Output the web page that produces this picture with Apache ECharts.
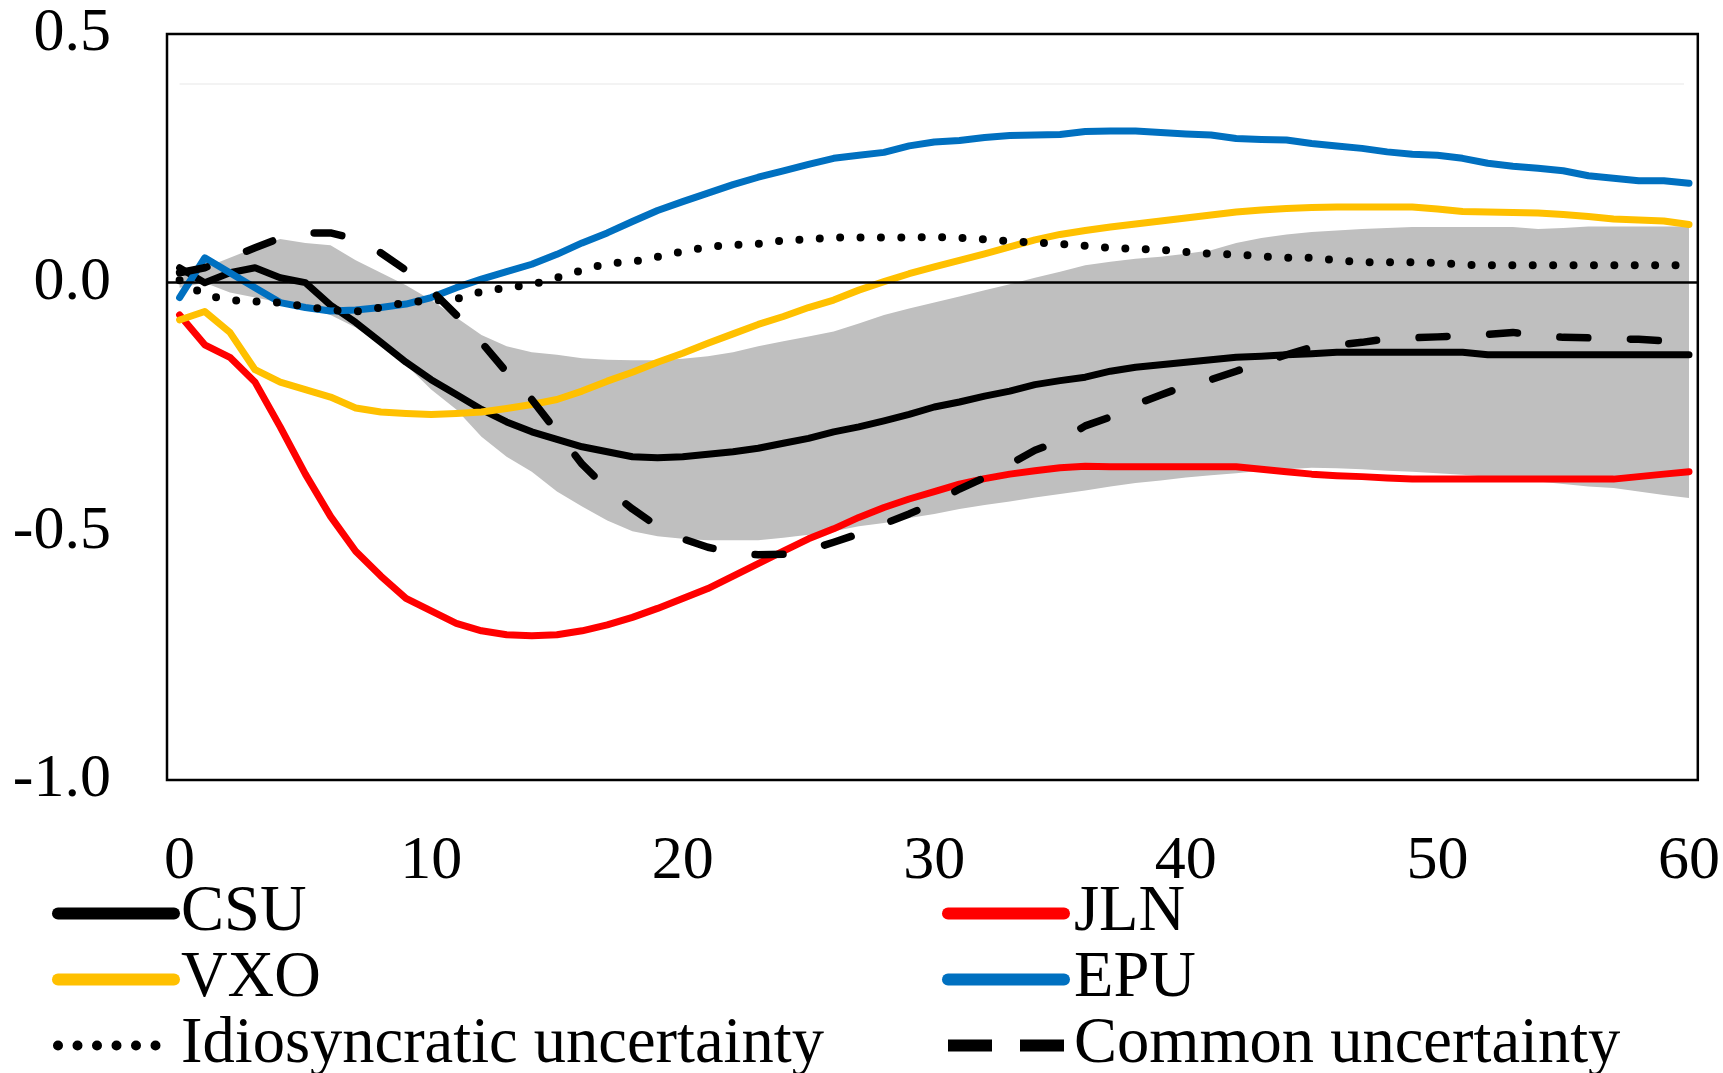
<!DOCTYPE html>
<html>
<head>
<meta charset="utf-8">
<title>Impulse responses to uncertainty shocks</title>
<script src="https://cdn.jsdelivr.net/npm/echarts@6/dist/echarts.min.js"></script>
<style>
  html, body { margin: 0; padding: 0; background: #ffffff; }
  #chart { width: 1723px; height: 1073px; }
</style>
</head>
<body>
<div id="chart"></div>
<script>
// Horizon (months after the shock)
const horizon = [0,1,2,3,4,5,6,7,8,9,10,11,12,13,14,15,16,17,18,19,20,
  21,22,23,24,25,26,27,28,29,30,31,32,33,34,35,36,37,38,39,40,
  41,42,43,44,45,46,47,48,49,50,51,52,53,54,55,56,57,58,59,60];

const xTickLabels = [0, 10, 20, 30, 40, 50, 60];

// Responses by uncertainty measure
const csu = [0.03,0.00,0.02,0.03,0.01,0.00,-0.045,-0.08,-0.12,-0.16,-0.195,
  -0.225,-0.255,-0.28,-0.30,-0.315,-0.33,-0.34,-0.35,-0.352,-0.35,
  -0.345,-0.34,-0.333,-0.323,-0.313,-0.30,-0.29,-0.278,-0.265,-0.25,
  -0.24,-0.228,-0.218,-0.205,-0.197,-0.19,-0.178,-0.17,-0.165,-0.16,
  -0.155,-0.15,-0.148,-0.145,-0.143,-0.14,-0.14,-0.14,-0.14,-0.14,
  -0.14,-0.145,-0.145,-0.145,-0.145,-0.145,-0.145,-0.145,-0.145,-0.145];

const jln = [-0.065,-0.125,-0.15,-0.20,-0.29,-0.385,-0.47,-0.54,-0.59,-0.635,-0.66,
  -0.685,-0.70,-0.708,-0.71,-0.708,-0.70,-0.688,-0.673,-0.655,-0.635,
  -0.615,-0.59,-0.565,-0.54,-0.515,-0.495,-0.472,-0.452,-0.435,-0.42,
  -0.405,-0.394,-0.385,-0.378,-0.372,-0.369,-0.37,-0.37,-0.37,-0.37,
  -0.37,-0.37,-0.375,-0.38,-0.385,-0.388,-0.39,-0.393,-0.395,-0.395,
  -0.395,-0.395,-0.395,-0.395,-0.395,-0.395,-0.395,-0.39,-0.385,-0.38];

const vxo = [-0.075,-0.058,-0.10,-0.175,-0.20,-0.215,-0.23,-0.252,-0.26,-0.263,-0.265,
  -0.263,-0.26,-0.253,-0.245,-0.235,-0.218,-0.198,-0.18,-0.16,-0.142,
  -0.122,-0.103,-0.084,-0.068,-0.05,-0.035,-0.015,0.002,0.018,0.032,
  0.045,0.058,0.072,0.086,0.097,0.105,0.112,0.118,0.124,0.13,
  0.136,0.142,0.146,0.149,0.151,0.152,0.152,0.152,0.152,0.148,
  0.143,0.142,0.141,0.14,0.137,0.133,0.128,0.126,0.124,0.117];

const epu = [-0.03,0.05,0.02,-0.01,-0.04,-0.05,-0.057,-0.055,-0.05,-0.043,-0.03,
  -0.01,0.007,0.022,0.037,0.057,0.08,0.10,0.123,0.145,0.163,
  0.18,0.197,0.212,0.225,0.238,0.25,0.256,0.262,0.275,0.283,
  0.286,0.292,0.296,0.297,0.298,0.304,0.305,0.305,0.302,0.299,
  0.297,0.29,0.288,0.287,0.28,0.275,0.27,0.263,0.258,0.256,
  0.25,0.24,0.234,0.23,0.225,0.215,0.21,0.205,0.205,0.20];

const idiosyncratic = [0.005,-0.025,-0.035,-0.038,-0.04,-0.048,-0.055,-0.058,-0.05,-0.04,-0.036,
  -0.033,-0.018,-0.01,-0.004,0.01,0.025,0.039,0.042,0.052,0.063,
  0.072,0.076,0.078,0.085,0.087,0.091,0.091,0.091,0.091,0.092,
  0.09,0.087,0.083,0.081,0.078,0.074,0.07,0.068,0.066,0.062,
  0.058,0.057,0.053,0.05,0.05,0.045,0.041,0.041,0.041,0.04,
  0.036,0.035,0.035,0.035,0.035,0.035,0.035,0.035,0.035,0.035];

const common = [0.02,0.03,0.05,0.07,0.09,0.10,0.10,0.088,0.06,0.025,-0.015,
  -0.065,-0.12,-0.18,-0.235,-0.30,-0.365,-0.415,-0.455,-0.49,-0.515,
  -0.532,-0.543,-0.547,-0.546,-0.538,-0.522,-0.505,-0.485,-0.465,-0.443,
  -0.415,-0.392,-0.365,-0.337,-0.318,-0.288,-0.27,-0.245,-0.226,-0.207,
  -0.195,-0.178,-0.161,-0.145,-0.13,-0.125,-0.12,-0.113,-0.111,-0.109,
  -0.107,-0.104,-0.10,-0.106,-0.11,-0.111,-0.113,-0.114,-0.117,-0.124];

// Confidence band around the CSU response
const bandUpper = [0.01,0.03,0.05,0.07,0.088,0.08,0.075,0.045,0.02,-0.005,-0.035,
  -0.07,-0.105,-0.128,-0.14,-0.145,-0.152,-0.155,-0.156,-0.156,-0.153,
  -0.148,-0.14,-0.128,-0.118,-0.108,-0.098,-0.082,-0.065,-0.052,-0.04,
  -0.028,-0.015,-0.003,0.01,0.022,0.035,0.042,0.048,0.052,0.058,
  0.065,0.08,0.09,0.097,0.102,0.105,0.108,0.11,0.112,0.112,
  0.112,0.112,0.112,0.108,0.11,0.113,0.113,0.113,0.113,0.113];

const bandLower = [-0.01,0.00,-0.02,-0.03,-0.04,-0.05,-0.065,-0.09,-0.125,-0.165,-0.215,
  -0.255,-0.31,-0.35,-0.38,-0.42,-0.45,-0.478,-0.50,-0.51,-0.515,
  -0.518,-0.518,-0.518,-0.513,-0.507,-0.50,-0.49,-0.483,-0.473,-0.465,
  -0.455,-0.447,-0.44,-0.432,-0.425,-0.418,-0.41,-0.403,-0.398,-0.392,
  -0.387,-0.383,-0.378,-0.375,-0.372,-0.373,-0.375,-0.378,-0.38,-0.383,
  -0.386,-0.39,-0.395,-0.40,-0.405,-0.41,-0.413,-0.42,-0.427,-0.433];

const FONT = "'Liberation Serif', 'Times New Roman', serif";
const pairs = (ys) => horizon.map((x, i) => [x, ys[i]]);

const solid = (name, ys, color) => ({
  name, type: 'line', data: pairs(ys), symbol: 'none', z: 3,
  lineStyle: { color, width: 7, cap: 'round', join: 'round' },
  itemStyle: { color }
});

// Shaded band: one polygon through the upper bound and back along the lower bound
const bandSeries = {
  name: 'band', type: 'custom', silent: true, z: 1,
  data: horizon.map((x, i) => [x, bandLower[i], bandUpper[i]]),
  encode: { x: 0, y: [1, 2] },
  renderItem: (params, api) => {
    if (params.dataIndex !== 0) return null;
    const top = horizon.map((x, i) => api.coord([x, bandUpper[i]]));
    const bottom = horizon.map((x, i) => api.coord([x, bandLower[i]])).reverse();
    return {
      type: 'polygon',
      shape: { points: top.concat(bottom) },
      style: { fill: '#bfbfbf', stroke: null }
    };
  },
  markLine: {
    silent: true, symbol: 'none', label: { show: false },
    lineStyle: { color: '#f3f3f3', width: 2, type: 'solid' },
    data: [[{ coord: [0, 0.4] }, { coord: [59.8, 0.4] }]]
  }
};

const legendBase = (left, padLeft) => ({
  left, top: 881, width: 760, height: 400,
  orient: 'vertical', padding: 0, itemGap: 1,
  itemWidth: 116, itemHeight: 14, selectedMode: false,
  itemStyle: { opacity: 0 },
  textStyle: {
    fontFamily: FONT, fontSize: 64.5, lineHeight: 54, color: '#000000',
    padding: [0, 0, 0, padLeft]
  }
});

const chart = echarts.init(document.getElementById('chart'), null, { renderer: 'canvas' });

chart.setOption({
  animation: false,
  backgroundColor: '#ffffff',
  textStyle: { fontFamily: FONT },
  grid: {
    left: 167, right: 25, top: 34, bottom: 293,
    show: true, borderColor: '#000000', borderWidth: 2.5, backgroundColor: 'transparent'
  },
  xAxis: {
    type: 'value', min: -0.5, max: 60.35,
    axisLine: { show: false }, axisTick: { show: false }, splitLine: { show: false },
    axisLabel: {
      customValues: xTickLabels, margin: 51,
      fontFamily: FONT, fontSize: 62, color: '#000000'
    }
  },
  yAxis: {
    type: 'value', min: -1.0, max: 0.5, interval: 0.5,
    axisLine: { show: false }, axisTick: { show: false }, splitLine: { show: false },
    axisLabel: {
      margin: 56, fontFamily: FONT, fontSize: 62, color: '#000000',
      formatter: (v) => v.toFixed(1)
    }
  },
  legend: [
    Object.assign(legendBase(52, 2), {
      data: [
        { name: 'CSU', lineStyle: { width: 12 } },
        { name: 'VXO', lineStyle: { width: 12 } },
        { name: 'Idiosyncratic uncertainty', lineStyle: { width: 10, type: [0, 19.5], cap: 'round' } }
      ]
    }),
    Object.assign(legendBase(942, 5), {
      data: [
        { name: 'JLN', lineStyle: { width: 12 } },
        { name: 'EPU', lineStyle: { width: 12 } },
        { name: 'Common uncertainty', lineStyle: { width: 12, type: [44, 28], cap: 'butt' } }
      ]
    })
  ],
  series: [
    bandSeries,
    Object.assign(solid('CSU', csu, '#000000'), {
      markLine: {
        silent: true, symbol: 'none', label: { show: false },
        lineStyle: { color: '#000000', width: 2.5, type: 'solid' },
        data: [{ yAxis: 0 }]
      }
    }),
    solid('JLN', jln, '#ff0000'),
    solid('VXO', vxo, '#ffc000'),
    solid('EPU', epu, '#0070c0'),
    {
      name: 'Idiosyncratic uncertainty', type: 'line', data: pairs(idiosyncratic),
      symbol: 'none', z: 4,
      lineStyle: { color: '#000000', width: 8, type: [0, 20.4], cap: 'round', join: 'round' },
      itemStyle: { color: '#000000' }
    },
    {
      name: 'Common uncertainty', type: 'line', data: pairs(common),
      symbol: 'none', z: 4,
      lineStyle: { color: '#000000', width: 7.5, type: [28, 42.6], cap: 'round', join: 'round' },
      itemStyle: { color: '#000000' }
    }
  ]
});
</script>
</body>
</html>
